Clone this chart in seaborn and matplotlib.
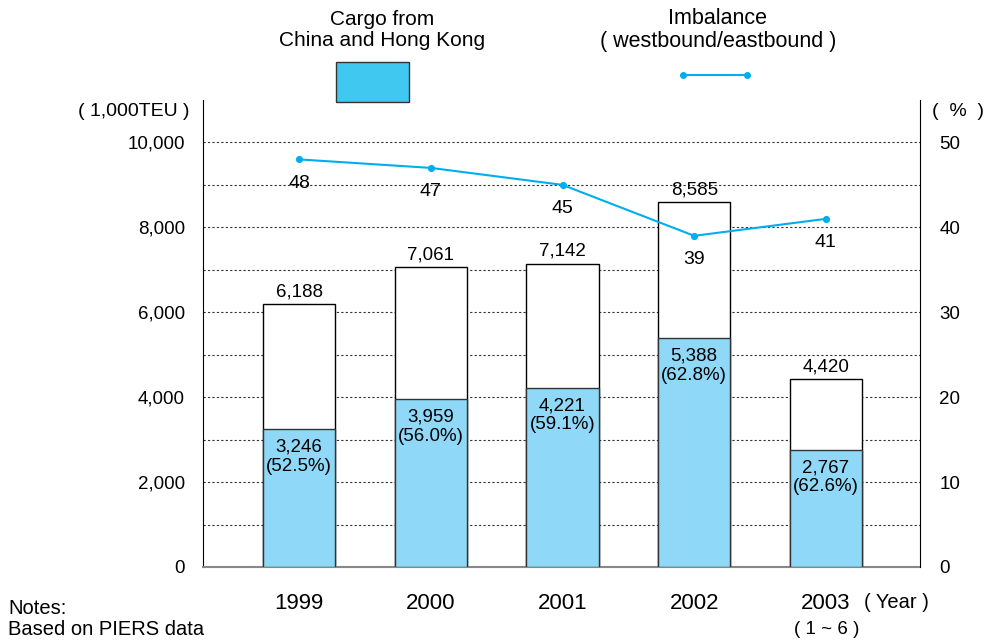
import pandas as pd
import matplotlib
matplotlib.use("Agg")
import matplotlib.pyplot as plt
from matplotlib.patches import Rectangle
from matplotlib.lines import Line2D
import seaborn as sns

sns.set_style("white")
plt.rcParams['font.family'] = ['Liberation Sans', 'DejaVu Sans']
plt.rcParams['text.color'] = 'black'
plt.rcParams['xtick.color'] = 'black'
plt.rcParams['ytick.color'] = 'black'

# data
years = ["1999", "2000", "2001", "2002", "2003"]
total_teu = [6188, 7061, 7142, 8585, 4420]
china_hk_teu = [3246, 3959, 4221, 5388, 2767]
china_hk_share = ["52.5%", "56.0%", "59.1%", "62.8%", "62.6%"]
imbalance = [48, 47, 45, 39, 41]

df = pd.DataFrame({"year": years, "total": total_teu, "china": china_hk_teu,
                   "share": china_hk_share, "imbalance": imbalance})

bar_blue = "#8fd8f7"
legend_blue = "#40c8f0"
line_blue = "#00aeef"
fs = 13.5

fig = plt.figure(figsize=(9.84, 6.4), dpi=100)
ax = fig.add_axes([0.2063, 0.1141, 0.7287, 0.7297])

# total bars (white) then China/HK part
sns.barplot(data=df, x="year", y="total", ax=ax, color="white", edgecolor="black",
            linewidth=1, width=0.55, zorder=2)
sns.barplot(data=df, x="year", y="china", ax=ax, color=bar_blue, edgecolor="#333333",
            linewidth=1, width=0.55, zorder=3, saturation=1)

ax.set_ylim(0, 11000)
ax.set_xlim(-0.73, 4.715)
ax.set_yticks(range(0, 11000, 2000))
ax.set_yticklabels([f"{v:,}" for v in range(0, 11000, 2000)], fontsize=fs)
for g in range(1000, 11000, 1000):
    ax.axhline(g, color="#333333", linestyle=(0, (2, 2)), linewidth=0.8, zorder=1)
ax.tick_params(axis="y", length=0, pad=13)
ax.tick_params(axis="x", length=0, pad=19, labelsize=16)
ax.set_xlabel("")
ax.set_ylabel("")
ax.spines["top"].set_visible(False)
ax.spines["right"].set_visible(False)
ax.spines["left"].set_color("black")
ax.spines["bottom"].set_color("#888888")
ax.spines["bottom"].set_linewidth(1.5)

for i, row in df.iterrows():
    ax.annotate(f"{row['total']:,}", (i, row["total"]), xytext=(0, 3),
                textcoords="offset points", ha="center", va="bottom", fontsize=fs, zorder=5)
    ax.annotate(f"{row['china']:,}\n({row['share']})", (i, row["china"]), xytext=(0, -7),
                textcoords="offset points", ha="center", va="top", fontsize=fs,
                linespacing=1.15, zorder=5)

# imbalance line on right axis
ax2 = ax.twinx()
sns.pointplot(data=df, x="year", y="imbalance", ax=ax2, color=line_blue,
              markers="o", markersize=4, linewidth=1.5, zorder=6)
ax2.set_xlim(-0.73, 4.715)
ax2.set_ylim(0, 55)
ax2.set_yticks(range(0, 60, 10))
ax2.set_yticklabels([str(v) for v in range(0, 60, 10)], fontsize=fs)
ax2.tick_params(axis="y", length=0, pad=14)
ax2.set_ylabel("")
ax2.set_xlabel("")
for s in ["top", "left", "bottom"]:
    ax2.spines[s].set_visible(False)
ax2.spines["right"].set_color("black")

for i, row in df.iterrows():
    ax2.annotate(str(row["imbalance"]), (i, row["imbalance"]), xytext=(0, -11),
                 textcoords="offset points", ha="center", va="top", fontsize=14, zorder=7)

# axis unit labels
fig.text(190 / 984, 1 - 112 / 640, "( 1,000TEU )", ha="right", va="center", fontsize=14)
fig.text(932 / 984, 1 - 112 / 640, "(  %  )", ha="left", va="center", fontsize=14)
fig.text(864 / 984, 1 - 603 / 640, "( Year )", ha="left", va="center", fontsize=14.5)
fig.text(827 / 984, 1 - 629 / 640, "( 1 ~ 6 )", ha="center", va="center", fontsize=13.5)
fig.text(8 / 984, 1 - 609 / 640, "Notes:", ha="left", va="center", fontsize=14.5)
fig.text(8 / 984, 1 / 640, "Based on PIERS data", ha="left", va="bottom", fontsize=14.5)

# legend header
fig.text(382 / 984, 1 - 30 / 640, "Cargo from\nChina and Hong Kong", ha="center", va="center",
         fontsize=15, linespacing=1.15)
fig.patches.append(Rectangle((336 / 984, 1 - 102 / 640), 73 / 984, 40 / 640,
                             transform=fig.transFigure, facecolor=legend_blue,
                             edgecolor="#333333", linewidth=1))
fig.text(718 / 984, 1 - 30 / 640, "Imbalance\n( westbound/eastbound )", ha="center", va="center",
         fontsize=15.5, linespacing=1.15)
fig.lines.append(Line2D([683 / 984, 747 / 984], [1 - 75 / 640, 1 - 75 / 640],
                        transform=fig.transFigure, color=line_blue, linewidth=1.5,
                        marker="o", markersize=4))

fig.savefig("out.png", dpi=100)
